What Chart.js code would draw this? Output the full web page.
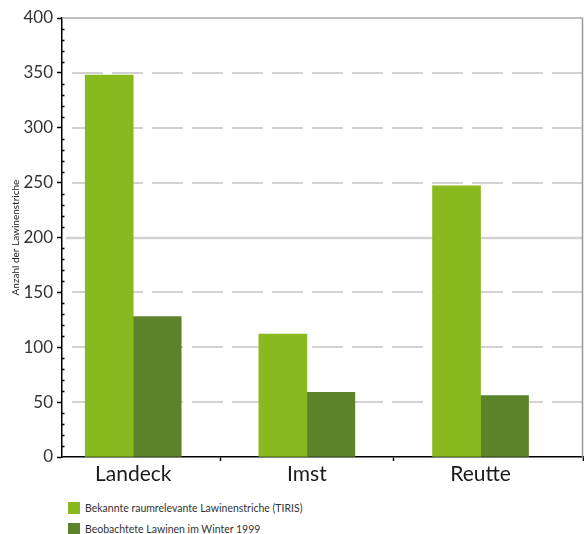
<!DOCTYPE html>
<html>
<head>
<meta charset="utf-8">
<script src="https://cdn.jsdelivr.net/npm/chart.js@4/dist/chart.umd.min.js"></script>
<style>
  html, body { margin: 0; padding: 0; background: #fff; }
  #wrap { position: relative; width: 584px; height: 534px; }
  #box { position: absolute; left: 0; top: 0; width: 584px; height: 492px; }
  #legend { position: absolute; left: 68px; top: 502px; font-family: Lato, "Open Sans", sans-serif; font-size: 10.5px; color: #333; }
  .item { display: flex; align-items: center; height: 12px; margin-bottom: 9px; }
  .sw { width: 12px; height: 12px; margin-right: 5px; }
</style>
</head>
<body>
<div id="wrap">
  <div id="box"><canvas id="c"></canvas></div>
  <div id="legend"></div>
</div>
<script>
// Lawinenstriche je Bezirk
const categories = ['Landeck', 'Imst', 'Reutte'];
const seriesNames = [
  'Bekannte raumrelevante Lawinenstriche (TIRIS)',
  'Beobachtete Lawinen im Winter 1999'
];
const bekannt = [348, 112, 247];
const beobachtet = [128, 59, 56];
const yTicks = [0, 50, 100, 150, 200, 250, 300, 350, 400];
const colors = ['#88b91e', '#5c8329'];

const toPoints = vals => vals.map((v, i) => ({ x: i, y: v }));

// Gridlines, frame and minor ticks drawn from the y scale
const framePlugin = {
  id: 'frame',
  beforeDatasetsDraw(chart) {
    const { ctx, chartArea: a, scales: { y } } = chart;
    ctx.save();
    yTicks.forEach(v => {
      if (v === 0) return;
      const py = Math.round(y.getPixelForValue(v));
      ctx.beginPath();
      if (v === 400) {
        ctx.strokeStyle = '#a8a8a8'; ctx.lineWidth = 1.5; ctx.setLineDash([]);
        ctx.moveTo(a.left, py); ctx.lineTo(a.right, py);
      } else if (v === 200) {
        ctx.strokeStyle = '#d2d2d2'; ctx.lineWidth = 2.5; ctx.setLineDash([]);
        ctx.moveTo(a.left + 4, py); ctx.lineTo(a.right, py);
      } else {
        ctx.strokeStyle = '#d2d2d2'; ctx.lineWidth = 2; ctx.setLineDash([31, 9]);
        ctx.moveTo(a.left + 10, py); ctx.lineTo(a.right, py);
      }
      ctx.stroke();
    });
    ctx.setLineDash([]);
    ctx.strokeStyle = '#999';
    ctx.lineWidth = 1.5;
    ctx.beginPath();
    ctx.moveTo(a.right - 0.5, a.top); ctx.lineTo(a.right - 0.5, a.bottom);
    ctx.stroke();
    ctx.restore();
  },
  afterDraw(chart) {
    const { ctx, chartArea: a, scales: { y } } = chart;
    ctx.save();
    ctx.strokeStyle = '#000';
    ctx.lineWidth = 1.5;
    for (let v = 10; v < 400; v += 10) {
      if (v % 50 === 0) continue;
      const py = Math.round(y.getPixelForValue(v)) + 0.5;
      ctx.beginPath();
      ctx.moveTo(a.left, py); ctx.lineTo(a.left + 2.5, py);
      ctx.stroke();
    }
    ctx.restore();
  }
};

const chart = new Chart(document.getElementById('c'), {
  type: 'bar',
  data: {
    datasets: [
      { label: seriesNames[0], data: toPoints(bekannt), backgroundColor: colors[0], barThickness: 48 },
      { label: seriesNames[1], data: toPoints(beobachtet), backgroundColor: colors[1], barThickness: 48 }
    ]
  },
  options: {
    responsive: true,
    maintainAspectRatio: false,
    animation: false,
    layout: { padding: { top: 18, right: 1, left: 0, bottom: 0 } },
    plugins: { legend: { display: false }, tooltip: { enabled: false } },
    scales: {
      x: {
        type: 'linear',
        offset: false,
        min: -0.41,
        max: 2.59,
        // category labels on whole numbers, separator marks between groups and at the axis end
        afterBuildTicks: s => { s.ticks = [0, 0.5, 1, 1.5, 2, s.max].map(v => ({ value: v })); },
        afterFit: s => { s.height = 35; },
        grid: {
          offset: false,
          drawOnChartArea: false,
          tickLength: 4,
          tickWidth: 1.5,
          tickColor: c => (c.tick && Number.isInteger(c.tick.value)) ? 'rgba(0,0,0,0)' : '#000'
        },
        border: { color: '#000', width: 1.5 },
        ticks: {
          autoSkip: false,
          maxRotation: 0,
          padding: 1,
          color: '#1a1a1a',
          font: { family: 'Lato, "Open Sans", sans-serif', size: 21 },
          callback: v => Number.isInteger(v) ? categories[v] : ''
        }
      },
      y: {
        min: 0,
        max: 400,
        afterFit: s => { s.width = 62; },
        title: {
          display: true,
          text: 'Anzahl der Lawinenstriche',
          color: '#222',
          font: { family: 'Lato, "Open Sans", sans-serif', size: 10 },
          padding: { top: 10, bottom: 0 }
        },
        grid: {
          drawOnChartArea: false,
          tickLength: 5,
          tickWidth: 1.5,
          tickColor: c => (c.tick && c.tick.value % 50 === 0) ? '#000' : 'rgba(0,0,0,0)'
        },
        border: { color: '#000', width: 1.5 },
        ticks: {
          stepSize: 10,
          autoSkip: false,
          padding: 4,
          color: '#333',
          font: { family: 'Lato, "Open Sans", sans-serif', size: 17 },
          callback: v => yTicks.includes(v) ? v : ''
        }
      }
    }
  },
  plugins: [framePlugin]
});

// Vertical legend built from the chart's datasets
const legend = document.getElementById('legend');
chart.data.datasets.forEach(ds => {
  const row = document.createElement('div');
  row.className = 'item';
  const sw = document.createElement('span');
  sw.className = 'sw';
  sw.style.background = ds.backgroundColor;
  const t = document.createElement('span');
  t.textContent = ds.label;
  row.appendChild(sw);
  row.appendChild(t);
  legend.appendChild(row);
});
</script>
</body>
</html>
